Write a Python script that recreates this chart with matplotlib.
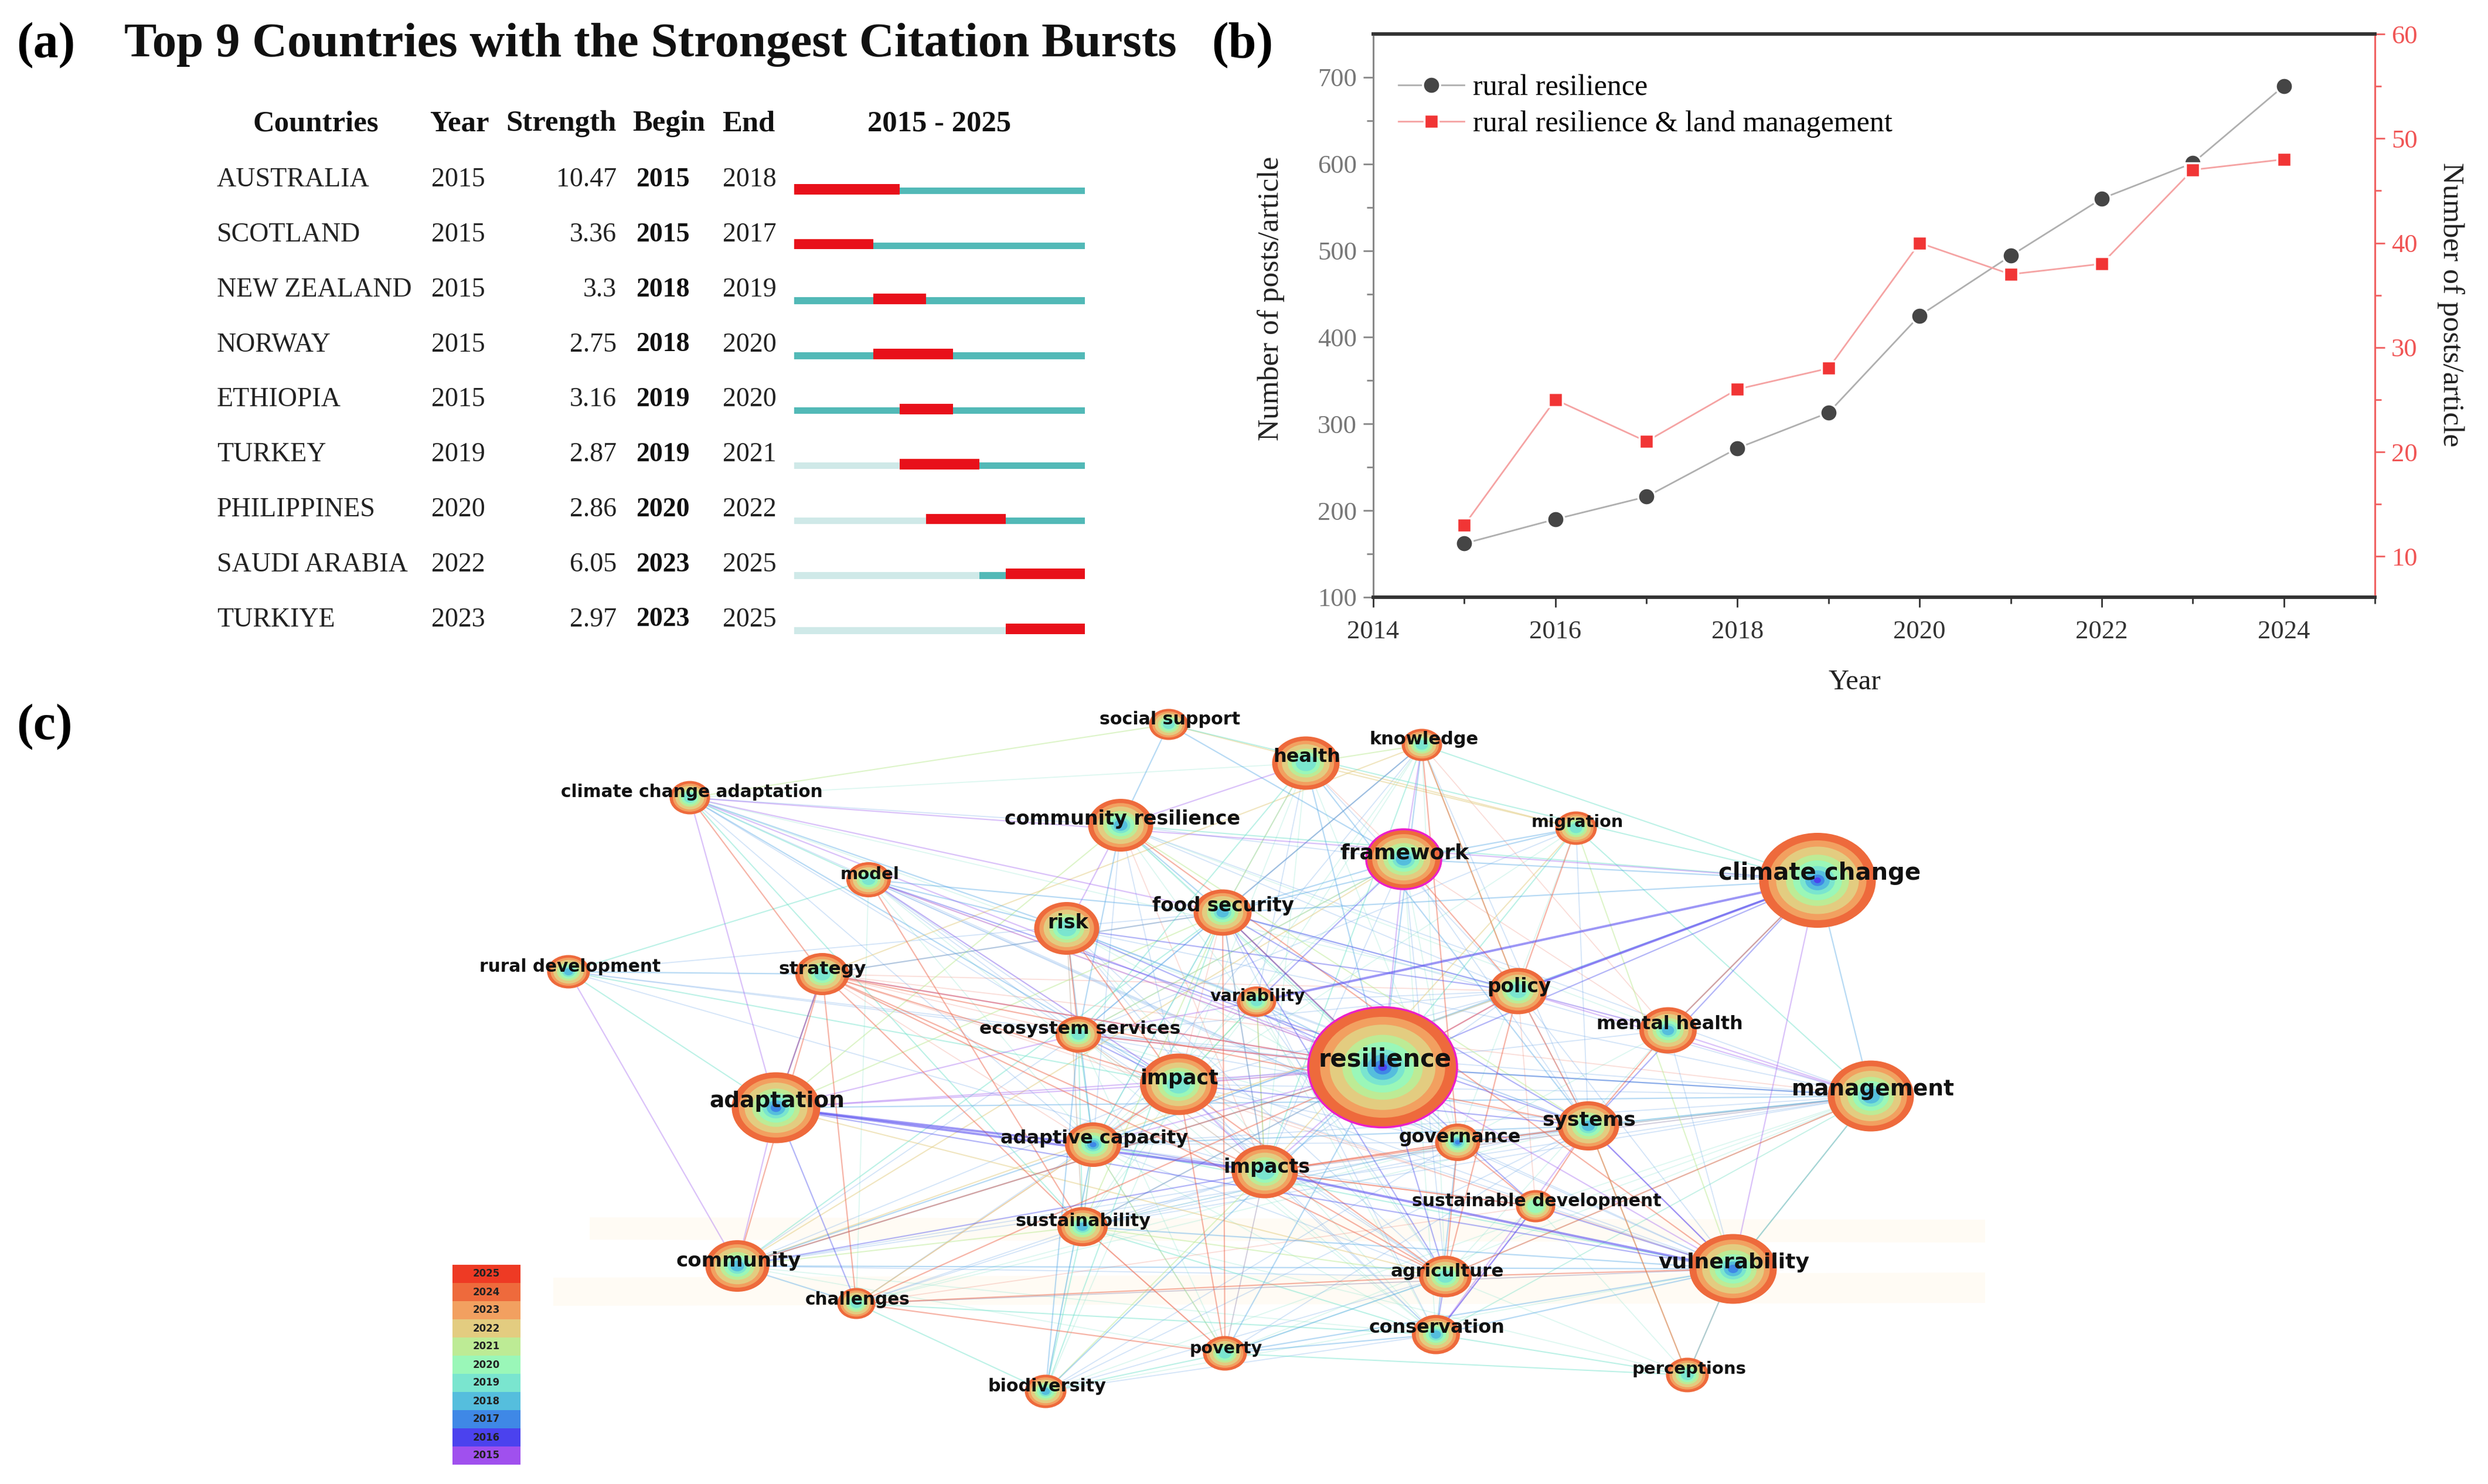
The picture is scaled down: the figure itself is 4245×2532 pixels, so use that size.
# Three panel figure: citation bursts table, yearly counts, keyword network
import matplotlib
matplotlib.use('Agg')
import matplotlib.pyplot as plt
from matplotlib.collections import LineCollection
from matplotlib.patches import Ellipse, Rectangle

W, H = 4245, 2532
SERIF = 'Liberation Serif'
NET_FONT = 'DejaVu Sans'

# panel (a) data
countries = ['AUSTRALIA', 'SCOTLAND', 'NEW ZEALAND', 'NORWAY', 'ETHIOPIA', 'TURKEY',
             'PHILIPPINES', 'SAUDI ARABIA', 'TURKIYE']
first_year = [2015, 2015, 2015, 2015, 2015, 2019, 2020, 2022, 2023]
strength = ['10.47', '3.36', '3.3', '2.75', '3.16', '2.87', '2.86', '6.05', '2.97']
begin = [2015, 2015, 2018, 2018, 2019, 2019, 2020, 2023, 2023]
end = [2018, 2017, 2019, 2020, 2020, 2021, 2022, 2025, 2025]

# panel (b) data
years = [2015, 2016, 2017, 2018, 2019, 2020, 2021, 2022, 2023, 2024]
rural = [162, 190, 216, 272, 313, 425, 494, 560, 601, 690]
rural_land = [13, 25, 21, 26, 28, 40, 37, 38, 47, 48]

node_keys = ['soc', 'cca', 'cre', 'mod', 'ris', 'foo', 'rur', 'str', 'eco', 'var', 'imp', 'ada',
             'acp', 'ims', 'sus', 'com', 'cha', 'pov', 'bio', 'hea', 'kno', 'fra', 'mig', 'cli',
             'pol', 'men', 'res', 'man', 'gov', 'sys', 'sde', 'agr', 'vul', 'con', 'per']
node_names = ['social support', 'climate change adaptation', 'community resilience', 'model', 'risk',
              'food security', 'rural development', 'strategy', 'ecosystem services', 'variability',
              'impact', 'adaptation', 'adaptive capacity', 'impacts', 'sustainability', 'community',
              'challenges', 'poverty', 'biodiversity', 'health', 'knowledge', 'framework', 'migration',
              'climate change', 'policy', 'mental health', 'resilience', 'management', 'governance',
              'systems', 'sustainable development', 'agriculture', 'vulnerability', 'conservation',
              'perceptions']
node_x = [1994, 1177, 1912, 1482, 1820, 2086, 970, 1403, 1840, 2144, 2011, 1324, 1865, 2158, 1847, 1258,
          1461, 2090, 1784, 2228, 2426, 2395, 2689, 3101, 2590, 2846, 2359, 3192, 2487, 2710, 2620, 2466,
          2957, 2450, 2879]
node_y = [1236, 1361, 1408, 1501, 1584, 1557, 1658, 1662, 1765, 1709, 1850, 1890, 1953, 1999, 2093, 2160,
          2224, 2309, 2374, 1302, 1271, 1466, 1413, 1502, 1691, 1758, 1821, 1870, 1949, 1921, 2058, 2178,
          2165, 2277, 2346]
node_w = [67, 69, 111, 76, 111, 99, 73, 92, 78, 67, 132, 151, 96, 113, 86, 109, 65, 75, 71, 115, 69, 128,
          71, 199, 99, 98, 254, 147, 77, 105, 67, 90, 149, 82, 73]
node_h = [53, 57, 90, 60, 90, 79, 57, 72, 62, 52, 105, 121, 76, 91, 67, 88, 53, 59, 57, 91, 55, 102, 57,
          162, 79, 79, 205, 121, 64, 84, 55, 71, 119, 67, 59]
node_first = [2019, 2019, 2018, 2019, 2019, 2018, 2018, 2019, 2019, 2019, 2019, 2017, 2017, 2019, 2018,
              2018, 2019, 2019, 2018, 2019, 2019, 2018, 2019, 2016, 2019, 2018, 2016, 2018, 2017, 2018,
              2020, 2019, 2017, 2018, 2019]
label_x = [1996, 1180, 1915, 1484, 1822, 2087, 973, 1403, 1843, 2146, 2012, 1326, 1867, 2161, 1848, 1260,
           1463, 2092, 1786, 2230, 2430, 2396, 2691, 3105, 2592, 2849, 2363, 3196, 2491, 2711, 2622, 2469,
           2958, 2452, 2882]
label_y = [1227, 1352, 1397, 1492, 1575, 1546, 1649, 1653, 1755, 1700, 1840, 1879, 1942, 1992, 2084, 2151,
           2218, 2301, 2365, 1291, 1262, 1455, 1403, 1490, 1684, 1748, 1807, 1859, 1940, 1912, 2049, 2169,
           2154, 2266, 2336]
label_pt = [21.7, 21.3, 24, 21, 24, 23.5, 21.3, 22.6, 22.5, 20.4, 25, 27, 23, 24, 21.8, 24.5, 21.3, 20.5,
            21.8, 23, 22, 26, 20.7, 29, 23.6, 22.9, 30, 27, 22.8, 24.8, 21.5, 22.3, 26, 22.9, 21]
ring_years = [2024, 2023, 2022, 2021, 2020, 2019, 2018, 2017, 2016]
ring_scale = [1.0, 0.84, 0.71, 0.54, 0.42, 0.30, 0.21, 0.12, 0.06]
legend_years = [2025, 2024, 2023, 2022, 2021, 2020, 2019, 2018, 2017, 2016, 2015]
legend_colors = ['#EE3A24', '#EE6A3C', '#F2A060', '#E3CC80', '#BDEB95', '#9AF7B8', '#7AE5CF', '#55BEDD',
                 '#3F88E6', '#4B42EE', '#A050EE']
year_color = dict(zip(legend_years, legend_colors))

# links grouped by colour year
edges_purple = """cca-ada cca-res cca-cli ada-com ada-imp ada-res ada-eco acp-res res-imp res-pol res-fra
men-man men-pol cli-vul kno-fra hea-cre cre-ris str-res sys-con sde-con rur-com
vul-sys vul-res mod-imp mod-res pol-man ims-res imp-ims pol-cli eco-var eco-res cca-foo""".split()
edges_blue = """ris-res foo-res foo-sys eco-imp res-sde agr-res ada-vul ada-cha ada-str fra-var res-man sys-vul
sde-vul foo-agr mod-sys ris-pol pol-foo imp-sys acp-ims com-ims agr-con con-sde cli-sys cli-res""".split()
edges_strong = """cli-pol cli-var ims-vul ada-ims ada-acp""".split()
edges_sky = """soc-cre soc-fra cre-foo cre-eco cli-fra cli-foo cli-men hea-res kno-foo fra-foo var-res com-cha
com-res com-vul com-acp agr-pov bio-res bio-acp bio-eco pov-res pov-con per-vul man-cli man-vul
ada-man cca-imp mod-ris mod-foo str-foo gov-con sus-res sus-vul sys-man foo-ims foo-eco ris-var ris-acp
acp-sys hea-sys mig-foo fra-mig kno-res cli-acp pov-vul con-vul rur-str cca-ris""".split()
edges_teal = """rur-ada rur-imp rur-mod cca-sus cca-mod cre-res cre-cli bio-sus bio-foo bio-pov sus-acp eco-acp
cli-soc kno-cli con-per man-res com-foo var-imp cha-con cha-bio acp-vul pov-per sus-con mig-res
mig-man eco-sus foo-acp kno-ims hea-eco""".split()
edges_green = """imp-var eco-fra ada-foo hea-foo hea-kno pol-kno ims-var mig-vul com-sus acp-pov sus-agr
cre-sys sys-per bio-ims foo-sus cca-soc ada-cre man-vul""".split()
edges_sand = """soc-mig hea-mig kno-str fra-com vul-per cha-acp com-pol ada-agr mig-ims""".split()
edges_red = """cca-str str-ada str-com str-cha str-sus str-imp str-res str-ims str-agr ris-imp foo-pov cha-pov
cha-agr cha-res sus-pov ims-agr imp-agr ims-sys ims-gov pol-agr pol-sys pol-res men-sys men-cli mig-pol
per-sys agr-vul kno-pol fra-pol foo-res gov-agr sde-sys sde-gov com-res cre-vul sde-ims
str-sys mod-sus acp-imp res-eco agr-man ris-eco kno-gov imp-pov""".split()
# the many pale links that fill the middle of the network
edges_pale_sky = """rur-res rur-ims rur-foo rur-eco cca-cre cca-eco cca-acp cca-gov cre-imp cre-acp cre-pol cre-man
mod-eco mod-imp mod-gov mod-agr mod-vul ris-ims ris-agr ris-sys ris-man foo-man foo-gov foo-con fra-eco
fra-ims fra-sys fra-agr fra-cre hea-pol hea-var hea-acp kno-eco kno-sys kno-acp mig-sys mig-eco var-sys
var-gov var-agr var-pol eco-pol eco-sys eco-vul eco-agr eco-man imp-man imp-vul imp-con imp-gov imp-pol
acp-man acp-agr acp-gov acp-pol acp-sde ims-man ims-con ims-pol sus-sys sus-man sus-gov sus-ims com-man
com-sys com-agr com-imp com-eco cha-sus cha-ims cha-vul cha-imp pov-sys pov-ims pov-acp bio-agr bio-con
bio-gov bio-sys gov-vul gov-man gov-sys pol-sys pol-vul men-vul men-imp men-foo""".split()
edges_pale_teal = """cca-hea cca-var cca-pol cre-men cre-gov cre-agr ris-gov ris-con ris-sus mod-cha mod-acp mod-con
hea-imp hea-ims hea-gov kno-imp kno-var kno-agr fra-acp fra-con fra-gov mig-gov mig-acp var-sus var-con
var-ims eco-ims eco-gov eco-con eco-pov imp-sus imp-bio acp-con acp-bio sus-per sus-gov com-con com-pov
cha-gov cha-sys bio-vul bio-man pov-agr pov-man con-man agr-per sde-per sde-agr sde-man men-agr
men-gov man-sys man-gov man-agr man-con""".split()
edges_pale_red = """str-eco str-acp str-vul str-pol str-man str-foo cha-sde cha-vul ims-man ims-sde imp-sde imp-res
eco-ims acp-sus acp-cha mod-res pov-sus pov-ims foo-ims foo-imp ris-sus gov-man gov-ims pol-sde cre-ims
sus-res var-ims hea-fra kno-foo kno-men fra-men""".split()

fig = plt.figure(figsize=(W / 100, H / 100), dpi=100, facecolor='white')

# one axes over the whole figure, measured in image pixels
base = fig.add_axes([0, 0, 1, 1])
base.set_xlim(0, W)
base.set_ylim(H, 0)
base.axis('off')

# panel letters
base.text(78, 77, '(a)', family=SERIF, weight='bold', fontsize=62, ha='center', va='center')
base.text(2120, 77, '(b)', family=SERIF, weight='bold', fontsize=62, ha='center', va='center')
base.text(76, 1240, '(c)', family=SERIF, weight='bold', fontsize=62, ha='center', va='center')

# ---- panel (a) ----
base.text(212, 77, 'Top 9 Countries with the Strongest Citation Bursts', family=SERIF, weight='bold',
          fontsize=59.8, ha='left', va='center', color='#111111')
head_pt = 36.5
row0, row_step = 307, 93.8
for label, x in zip(['Countries', 'Year', 'Strength', 'Begin', 'End', '2015 - 2025'],
                    [539, 784, 958, 1141, 1277, 1603]):
    base.text(x, 211, label, family=SERIF, weight='bold', fontsize=head_pt, ha='center', va='center', color='#111111')
for i in range(len(countries)):
    y = row0 + i * row_step
    base.text(370, y, countries[i], family=SERIF, fontsize=33, ha='left', va='center', color='#222222')
    base.text(782, y, str(first_year[i]), family=SERIF, fontsize=33, ha='center', va='center', color='#222222')
    base.text(1052, y, strength[i], family=SERIF, fontsize=33, ha='right', va='center', color='#222222')
    base.text(1131, y, str(begin[i]), family=SERIF, weight='bold', fontsize=33, ha='center', va='center', color='#111111')
    base.text(1279, y, str(end[i]), family=SERIF, fontsize=33, ha='center', va='center', color='#222222')

bars_top = 322.7 - 46.9
bars_bottom = 322.7 + 8.5 * 93.8
burst = fig.add_axes([1355 / W, 1 - bars_bottom / H, 496 / W, (bars_bottom - bars_top) / H])
burst.set_xlim(2015, 2026)
burst.set_ylim(8.5, -0.5)
burst.axis('off')
for i in range(len(countries)):
    burst.barh(i + 0.03, first_year[i] - 2015, left=2015, height=0.12, color='#CFE9E8')
    burst.barh(i + 0.03, 2026 - first_year[i], left=first_year[i], height=0.12, color='#52B9B7')
    burst.barh(i, end[i] - begin[i] + 1, left=begin[i], height=0.19, color='#E8101A')

# ---- panel (b) ----
bx0, bx1, by0, by1 = 2343, 4052, 58, 1019
ax = fig.add_axes([bx0 / W, 1 - by1 / H, (bx1 - bx0) / W, (by1 - by0) / H])
ax.set_xlim(2014, 2025)
ax.set_ylim(100, 750)
ax2 = ax.twinx()
ax2.set_ylim(6.09, 60)
# white marker edge leaves the small gap between line and marker
line_gray, = ax.plot(years, rural, color='#AFAFAF', lw=2, marker='o', ms=21, mfc='#454545', mec='white', mew=2.5,
                     label='rural resilience')
line_red, = ax2.plot(years, rural_land, color='#F5A3A3', lw=2, marker='s', ms=17, mfc='#F13535', mec='white', mew=2.5,
                     label='rural resilience & land management')
ax.set_xticks(range(2014, 2025, 2))
ax.set_xticks(range(2015, 2026, 2), minor=True)
ax.set_yticks(range(100, 701, 100))
ax.set_yticks(range(150, 701, 100), minor=True)
ax2.set_yticks(range(10, 61, 10))
ax2.set_yticks(range(15, 56, 10), minor=True)
ax.tick_params(axis='x', which='major', length=12, width=2, color='#333333', labelsize=32, labelcolor='#333333', pad=16)
ax.tick_params(axis='x', which='minor', length=8, width=2, color='#333333')
ax.tick_params(axis='y', which='major', length=12, width=2, color='#888888', labelsize=32, labelcolor='#777777', pad=8)
ax.tick_params(axis='y', which='minor', length=8, width=2, color='#888888')
ax2.tick_params(axis='y', which='major', length=12, width=2, color='#F06060', labelsize=32, labelcolor='#F05555', pad=8)
ax2.tick_params(axis='y', which='minor', length=8, width=2, color='#F06060')
for lab in ax.get_xticklabels() + ax.get_yticklabels() + ax2.get_yticklabels():
    lab.set_family(SERIF)
for a in (ax, ax2):
    a.spines['left'].set(color='#888888', lw=2)
    a.spines['bottom'].set(color='#333333', lw=4)
    a.spines['top'].set(color='#333333', lw=4)
    a.spines['right'].set(color='#F06060', lw=2)
leg = ax2.legend(handles=[line_gray, line_red], loc='upper left', bbox_to_anchor=(0.025, 0.928), frameon=False,
                 prop={'family': SERIF, 'size': 36}, handlelength=2.25, handletextpad=0.3, labelspacing=0.3,
                 borderpad=0, borderaxespad=0)
base.text(2169, 509, 'Number of posts/article', family=SERIF, fontsize=37, rotation=90, ha='center', va='center', color='#222222')
base.text(4181, 520, 'Number of posts/article', family=SERIF, fontsize=37, rotation=270, ha='center', va='center', color='#222222')
base.text(3164, 1164, 'Year', family=SERIF, fontsize=35, ha='center', va='center', color='#222222')

# ---- panel (c) ----
# pale bands left behind the network
base.fill([1006, 3387, 3387, 1006], [2077, 2081, 2120, 2115], color='#FFFBF4', lw=0, zorder=0)
base.fill([944, 3387, 3387, 944], [2180, 2171, 2223, 2228], color='#FFFBF4', lw=0, zorder=0)

# links first, nodes and words over them
pos = {k: (x, y) for k, x, y in zip(node_keys, node_x, node_y)}
edge_groups = [(edges_pale_teal, '#8FE6D0', 0.3, 1.3), (edges_pale_red, '#F09080', 0.3, 1.3),
               (edges_pale_sky, '#70A8E8', 0.3, 1.3),
               (edges_green, '#BDEB95', 0.5, 1.5), (edges_sand, '#E3CC80', 0.5, 1.5), (edges_teal, '#7AE5CF', 0.5, 1.5),
               (edges_sky, '#55A8E6', 0.42, 1.6), (edges_purple, '#A060F0', 0.38, 1.6), (edges_red, '#EE6A50', 0.5, 1.6),
               (edges_blue, '#4B50EE', 0.42, 1.6), (edges_strong, '#5A50F0', 0.6, 2.8)]
for group, colour, alpha, width in edge_groups:
    segs = [(pos[e[:3]], pos[e[4:]]) for e in group]
    base.add_collection(LineCollection(segs, colors=colour, linewidths=width, alpha=alpha, zorder=1))

for i in range(len(node_keys)):
    for yr, frac in zip(ring_years, ring_scale):
        if yr < node_first[i]:
            continue
        edge = '#EB1FC8' if yr == 2024 and node_keys[i] in ('res', 'fra') else 'none'
        base.add_patch(Ellipse((node_x[i], node_y[i]), node_w[i] * frac, node_h[i] * frac, facecolor=year_color[yr],
                               edgecolor=edge, lw=2.5, zorder=2))
for i in range(len(node_keys)):
    base.text(label_x[i], label_y[i], node_names[i], family=NET_FONT, weight='bold', fontsize=label_pt[i],
              ha='center', va='center', color='#111111', zorder=3)

# year colour key
for i, yr in enumerate(legend_years):
    base.add_patch(Rectangle((772, 2158 + i * 31), 116, 31, facecolor=legend_colors[i], lw=0, zorder=2))
    base.text(830, 2158 + (i + 0.5) * 31, str(yr), family=NET_FONT, weight='bold', fontsize=12, ha='center',
              va='center', color='#222222', zorder=3)

fig.savefig('out.png', dpi=100)
